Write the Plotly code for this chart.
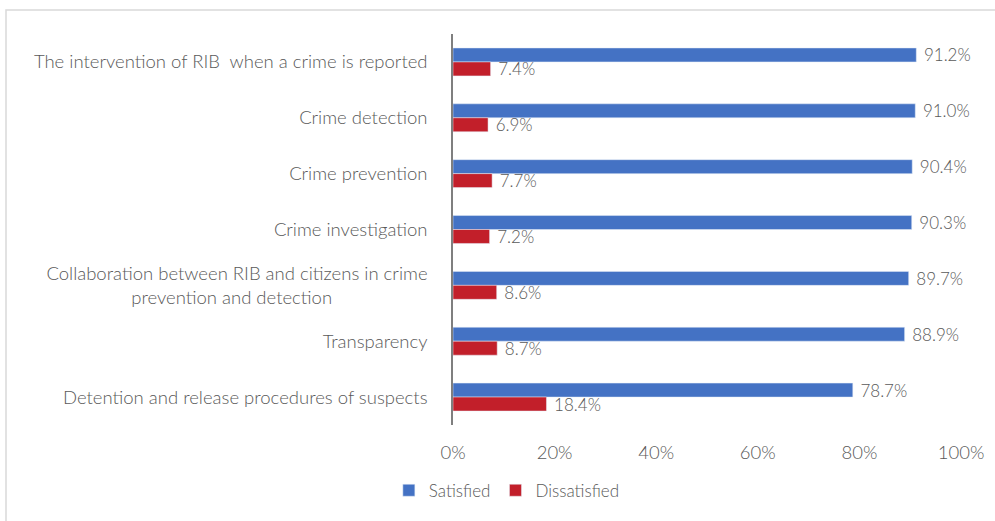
import plotly.graph_objects as go

NB = "\u00a0"
categories = [
    "The intervention of RIB  when a crime is reported",
    "Crime detection",
    "Crime prevention",
    "Crime investigation",
    "Collaboration between RIB and citizens in crime<br>prevention and detection" + NB * 19,
    "Transparency",
    "Detention and release procedures of suspects",
]
satisfied = [91.2, 91.0, 90.4, 90.3, 89.7, 88.9, 78.7]
dissatisfied = [7.4, 6.9, 7.7, 7.2, 8.6, 8.7, 18.4]
x_ticks = [0, 20, 40, 60, 80, 100]
x_ticklabels = ["0%", "20%", "40%", "60%", "80%", "100%"]

FONT = dict(family="Lato", size=18.5, color="#595959", weight=300)
LABEL_FONT = dict(family="Lato", size=17, color="#595959", weight=300)

fig = go.Figure()
fig.add_trace(go.Bar(
    y=categories, x=satisfied, orientation="h", name="Satisfied",
    marker=dict(color="#4472C4"),
    text=[f"{NB}{v:.1f}%" for v in satisfied], textposition="outside",
    textfont=LABEL_FONT, cliponaxis=False, constraintext="none",
))
fig.add_trace(go.Bar(
    y=categories, x=dissatisfied, orientation="h", name="Dissatisfied",
    marker=dict(color="#C21F2A"),
    text=[f"{NB}{v:.1f}%" for v in dissatisfied], textposition="outside",
    textfont=LABEL_FONT, cliponaxis=False, constraintext="none",
))

fig.update_layout(
    width=995, height=521,
    margin=dict(l=453, r=34, t=34, b=94),
    paper_bgcolor="white", plot_bgcolor="white",
    barmode="group", bargap=0.5, bargroupgap=0,
    font=FONT,
    showlegend=True,
    legend=dict(orientation="h", x=0.106, xanchor="center", y=-0.168, yanchor="middle",
                font=LABEL_FONT, itemwidth=30, traceorder="normal"),
    xaxis=dict(range=[0, 100], tickvals=x_ticks, ticktext=x_ticklabels,
               showgrid=False, zeroline=False, showline=False, tickfont=FONT,
               ticklabelstandoff=14),
    yaxis=dict(autorange="reversed", showgrid=False, zeroline=False,
               showline=True, linecolor="#7f7f7f", linewidth=1.5,
               ticks="", ticklabelstandoff=20, tickfont=FONT),
    shapes=[dict(type="rect", xref="paper", yref="paper",
                 x0=(6 - 453) / 508, x1=(1000 - 453) / 508,
                 y0=-(103 / 393), y1=1 + 24 / 393,
                 line=dict(color="#d9d9d9", width=1.5), fillcolor="rgba(0,0,0,0)", layer="below")],
)

fig.write_html("out.html", config={"displayModeBar": False},
               post_script="document.body.style.margin='0';document.body.style.overflow='hidden';")
